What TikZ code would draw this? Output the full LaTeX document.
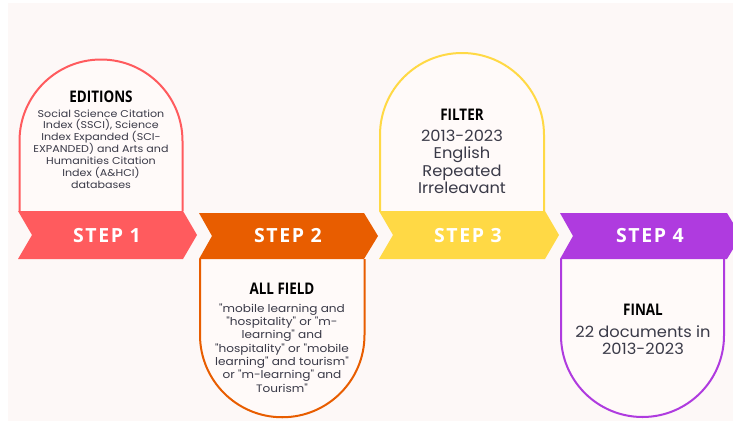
\documentclass[tikz,border=0pt]{standalone}
\usepackage{fontspec}
\setmainfont{Poppins}
\newfontfamily\bodyfont[FakeStretch=1.12]{Poppins}
\newfontfamily\widefont[FakeStretch=1.05]{Poppins}
\newfontfamily\stepfont[LetterSpace=8]{Open Sans}
\newfontfamily\headfont[FakeStretch=0.84]{Open Sans}
\definecolor{bgc}{HTML}{FDF8F7}
\definecolor{boxfill}{HTML}{FFFAF9}
\definecolor{cred}{HTML}{FF5B5E}
\definecolor{corange}{HTML}{E85D00}
\definecolor{cyellow}{HTML}{FFD945}
\definecolor{cpurple}{HTML}{AF3BDF}
\definecolor{ink}{HTML}{3A3A48}
\tikzset{
  tomb/.style={fill=boxfill, line width=2pt},
  steplabel/.style={text=white, font=\stepfont\bfseries\fontsize{19.5}{21}\selectfont},
  headlabel/.style={text=black, font=\headfont\bfseries\fontsize{16}{18}\selectfont},
  bodysmall/.style={text=ink, align=center, font=\bodyfont\fontsize{9.9}{11.9}\selectfont},
  bodymid/.style={text=ink, align=center, font=\bodyfont\fontsize{10.8}{13.3}\selectfont},
  bodylarge/.style={text=ink, align=center, font=\widefont\fontsize{15.5}{17.3}\selectfont},
}
\begin{document}
\begin{tikzpicture}[x=1pt,y=-1pt]
\useasboundingbox (0,0) rectangle (733,423);
\clip (0,0) rectangle (733,423);
\fill[bgc] (8,3) rectangle (733,421);

% upper cards (rounded tops)
\filldraw[tomb, draw=cred] (19.5,211) -- (19.5,141) arc[start angle=180, end angle=0, x radius=81.5pt, y radius=81.5pt] -- (182.5,211);
\filldraw[tomb, draw=cyellow] (380,211) -- (380,135) arc[start angle=180, end angle=0, x radius=82pt, y radius=82pt] -- (544,211);

% lower cards (rounded bottoms)
\filldraw[tomb, draw=corange] (200,259) -- (200,335) arc[start angle=180, end angle=360, x radius=82.25pt, y radius=82.25pt] -- (364.5,259);
\filldraw[tomb, draw=cpurple] (561,259) -- (561,335.5) arc[start angle=180, end angle=360, x radius=81.5pt, y radius=81.5pt] -- (724,259);

% step chevrons
\fill[cred] (18,211) -- (183,211) -- (197,235) -- (183,259) -- (18,259) -- (32,235) -- cycle;
\fill[corange] (199,213) -- (364,213) -- (378,236) -- (364,259) -- (199,259) -- (212,236) -- cycle;
\fill[cyellow] (379,211) -- (545,211) -- (559,235) -- (545,259) -- (379,259) -- (393,235) -- cycle;
\fill[cpurple] (560,213) -- (727,213) -- (741,236) -- (727,259) -- (560,259) -- (573,236) -- cycle;

\node[steplabel] (s1) at (107,235.5) {STEP 1};
\node[steplabel] (s2) at (288,236) {STEP 2};
\node[steplabel] (s3) at (468,235.5) {STEP 3};
\node[steplabel] (s4) at (650,236) {STEP 4};

% card contents
\node[headlabel] (h1) at (101,97) {EDITIONS};
\node[bodysmall] (b1) at (101,149) {Social Science Citation\\Index (SSCI), Science\\Index Expanded (SCI-\\EXPANDED) and Arts and\\Humanities Citation\\Index (A\&HCI)\\databases};

\node[headlabel] (h2) at (282,289) {ALL FIELD};
\node[bodymid] (b2) at (282,348) {"mobile learning and\\"hospitality" or "m-\\learning" and\\"hospitality" or "mobile\\learning" and tourism"\\or "m-learning" and\\Tourism"};

\node[headlabel] (h3) at (462,115) {FILTER};
\node[bodylarge] (b3) at (462,162) {2013-2023\\English\\Repeated\\Irreleavant};

\node[headlabel] (h4) at (643,310) {FINAL};
\node[bodylarge] (b4) at (643,340) {22 documents in\\2013-2023};
\end{tikzpicture}
\end{document}
